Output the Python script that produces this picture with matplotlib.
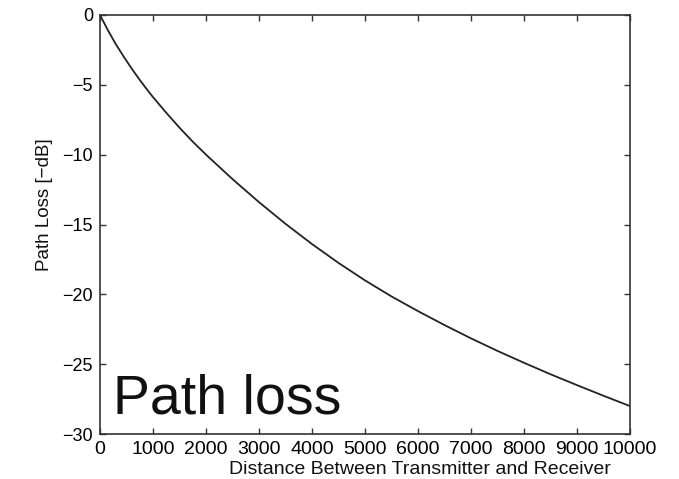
import matplotlib
matplotlib.use("Agg")
import matplotlib.pyplot as plt

# Data
distance = [0, 150, 300, 450, 600, 750, 900, 1000, 1250, 1500, 1750, 2000,
            2500, 3000, 3500, 4000, 4500, 5000, 5500, 6000, 6500, 7000,
            7500, 8000, 8500, 9000, 9500, 10000]
path_loss = [0.0, -1.1, -2.1, -3.0, -3.85, -4.65, -5.4, -5.88, -7.0, -8.07,
             -9.07, -10.0, -11.75, -13.4, -14.95, -16.4, -17.75, -19.0,
             -20.15, -21.2, -22.2, -23.15, -24.05, -24.9, -25.72, -26.5,
             -27.26, -28.0]
x_ticks = [0, 1000, 2000, 3000, 4000, 5000, 6000, 7000, 8000, 9000, 10000]
y_ticks = [-30, -25, -20, -15, -10, -5, 0]

plt.rcParams['font.family'] = ['Liberation Sans', 'DejaVu Sans']

fig = plt.figure(figsize=(6.79, 4.79), dpi=100)
ax = fig.add_axes([0.1473, 0.0939, 0.7805, 0.8748])

ax.plot(distance, path_loss, color='#222222', linewidth=1.3)

ax.set_xlim(0, 10000)
ax.set_ylim(-30, 0)
ax.set_xticks(x_ticks)
ax.set_yticks(y_ticks)
ax.set_xticklabels([str(v) for v in x_ticks])
ax.set_yticklabels([str(v).replace('-', '\u2212') for v in y_ticks])

ax.tick_params(direction='in', length=4, width=1.0, color='#333333',
               top=True, right=True, labelcolor='black')
ax.tick_params(axis='x', pad=5, labelsize=14)
ax.tick_params(axis='y', pad=5, labelsize=13)

for s in ax.spines.values():
    s.set_color('#333333')
    s.set_linewidth(1.2)

ax.set_xlabel('Distance Between Transmitter and Receiver', fontsize=14,
              color='#111111')
ax.xaxis.set_label_coords(0.604, -0.064)
ax.set_ylabel('Path Loss [\u2212dB]', fontsize=13.5, color='#111111')
ax.yaxis.set_label_coords(-0.089, 0.547)

ax.text(245, -28.5, 'Path loss', fontsize=40, color='#111111',
        ha='left', va='baseline')

fig.savefig('out.png', dpi=100)
